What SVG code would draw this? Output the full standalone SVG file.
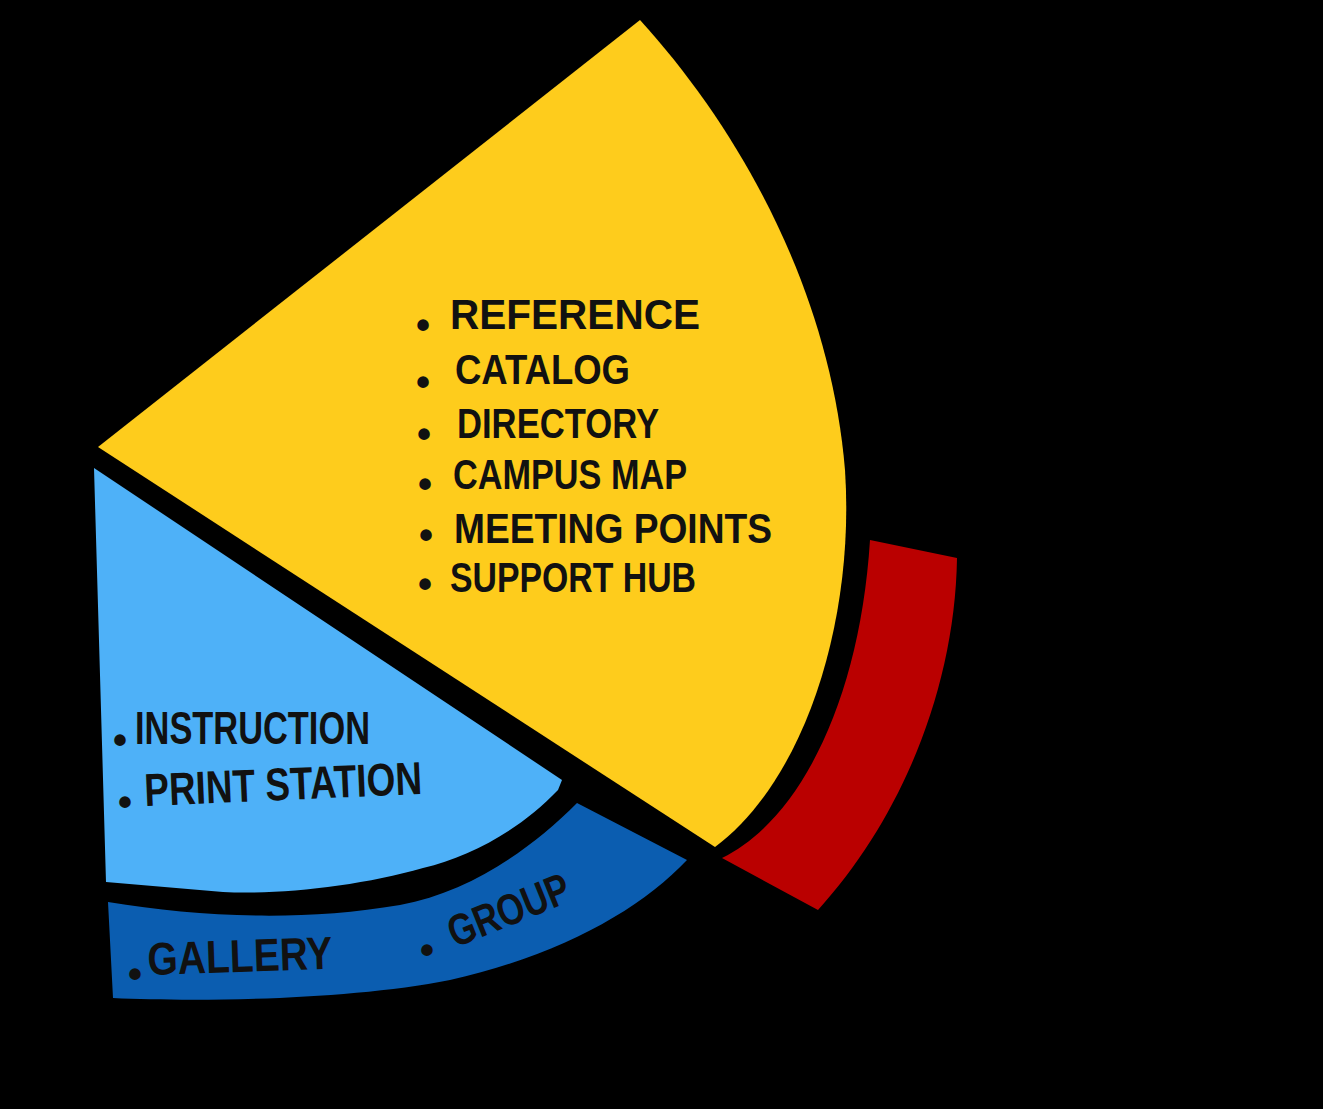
<svg xmlns="http://www.w3.org/2000/svg" width="1323" height="1109" viewBox="0 0 1323 1109">
<style>
.lbl{font-family:"Liberation Sans","Arial",sans-serif;font-weight:bold;fill:#111;}
.dot{font-family:"Liberation Sans","Arial",sans-serif;font-weight:bold;fill:#111;font-size:40px;text-anchor:middle;}
</style>
<rect x="0" y="0" width="1323" height="1109" fill="#000"/>
<g id="yellow-sector">
<path d="M98,447 L640,20 C740,130 830,290 845,470 C855,620 805,780 715,847 Z" fill="#FECC1C"/>
<text class="dot" x="423" y="339">•</text>
<text class="lbl" x="450" y="329" font-size="42" textLength="250" lengthAdjust="spacingAndGlyphs">REFERENCE</text>
<text class="dot" x="423" y="396">•</text>
<text class="lbl" x="455" y="384" font-size="42" textLength="175" lengthAdjust="spacingAndGlyphs">CATALOG</text>
<text class="dot" x="424" y="448">•</text>
<text class="lbl" x="457" y="438" font-size="42" textLength="202" lengthAdjust="spacingAndGlyphs">DIRECTORY</text>
<text class="dot" x="425" y="498">•</text>
<text class="lbl" x="453" y="489" font-size="42" textLength="234" lengthAdjust="spacingAndGlyphs">CAMPUS  MAP</text>
<text class="dot" x="426" y="549">•</text>
<text class="lbl" x="454" y="543" font-size="42" textLength="318" lengthAdjust="spacingAndGlyphs">MEETING  POINTS</text>
<text class="dot" x="425" y="598">•</text>
<text class="lbl" x="450" y="592" font-size="42" textLength="246" lengthAdjust="spacingAndGlyphs">SUPPORT  HUB</text>
</g>
<g id="light-blue-sector">
<path d="M94,468 L562,780 L558,790 C520,830 470,857 423,868 C360,886 280,895 223,892 L106,882 Z" fill="#4EB1F8"/>
<text class="dot" x="120" y="754">•</text>
<text class="lbl" x="135" y="744" font-size="46" textLength="235" lengthAdjust="spacingAndGlyphs">INSTRUCTION</text>
<text class="dot" x="125" y="816">•</text>
<text class="lbl" x="145" y="806" font-size="46" textLength="278" lengthAdjust="spacingAndGlyphs" transform="rotate(-2.5 145 806)">PRINT  STATION</text>
</g>
<g id="dark-blue-band">
<path d="M108,902 C200,917 300,922 400,905 C470,892 530,850 577,803 L687,860 C640,910 560,955 450,980 C350,1000 200,1002 113,998 Z" fill="#0B5DB0"/>
<text class="dot" x="135" y="988">•</text>
<text class="lbl" x="148" y="975" font-size="46" textLength="185" lengthAdjust="spacingAndGlyphs" transform="rotate(-2 148 975)">GALLERY</text>
<text class="dot" x="427" y="964">•</text>
<text class="lbl" x="455" y="948" font-size="44" textLength="128" lengthAdjust="spacingAndGlyphs" transform="rotate(-22 455 948)">GROUP</text>
</g>
<g id="red-band">
<path d="M870,540 L957,558 C955,690 900,820 818,910 L722,858 C800,820 860,700 870,540 Z" fill="#BA0000"/>
</g>
<g id="connectors"></g>
</svg>
